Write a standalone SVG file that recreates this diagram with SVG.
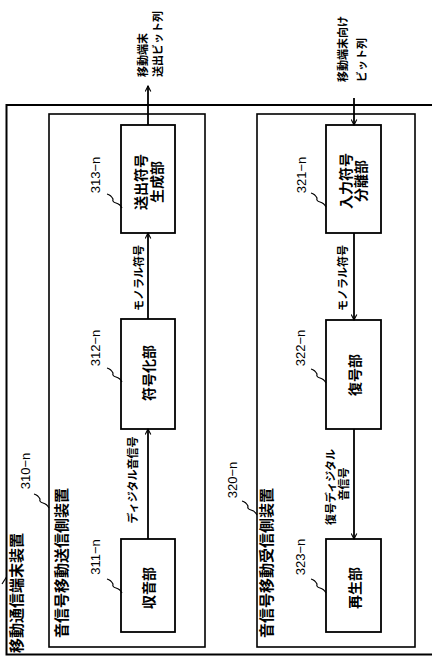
<svg xmlns="http://www.w3.org/2000/svg" width="432" height="657" viewBox="0 0 432 657">
<style>
.box{fill:none;stroke:#000;stroke-width:1.6}
.outer{fill:none;stroke:#000;stroke-width:2}
.blk{fill:#fff;stroke:#000;stroke-width:1.8}
.ln{fill:none;stroke:#000;stroke-width:1.8}
.ld{fill:none;stroke:#000;stroke-width:1.2}
.jp{font-family:"Noto Sans CJK JP","Noto Sans",sans-serif;font-weight:bold;fill:#000}
.t15{font-size:15px}
.t14{font-size:14px}
.t11{font-size:11px}
.num{font-family:"Liberation Sans",Arial,sans-serif;font-size:13px;fill:#000}
text{text-anchor:middle;dominant-baseline:central}
.st{text-anchor:start}
</style>
<defs>
<marker id="ah" viewBox="0 0 10 10" refX="9" refY="5" markerWidth="7" markerHeight="7" orient="auto" markerUnits="userSpaceOnUse">
<path d="M1,1 L9,5 L1,9" fill="none" stroke="#000" stroke-width="1.6"/>
</marker>
<path id="sq" d="M0,0 q4,1 6,5 q-1,3 3,4 q4,1 6,5" fill="none" stroke="#000" stroke-width="1.2"/>
</defs>

<g id="frame-300">
<path class="outer" d="M440,105 H6.5 V654.5 H440"/>
<line class="ld" x1="2" y1="584" x2="6.5" y2="577"/>
<text class="jp t15" transform="translate(15,593) rotate(-90)">移動通信端末装置</text>
</g>

<g id="dev-310">
<rect class="box" x="49" y="114" width="156" height="533"/>
<text class="jp t15" transform="translate(60,563) rotate(-90)">音信号移動送信側装置</text>
<text class="num" transform="translate(25,471) rotate(-90)">310−n</text>
<use href="#sq" x="34" y="494"/>
</g>

<g id="dev-320">
<rect class="box" x="257" y="114" width="158" height="533"/>
<text class="jp t15" transform="translate(265,563) rotate(-90)">音信号移動受信側装置</text>
<text class="num" transform="translate(232,480) rotate(-90)">320−n</text>
<use href="#sq" x="242" y="501"/>
</g>

<g id="node-313">
<rect class="blk" x="121" y="125" width="54" height="108"/>
<text class="jp t14" transform="translate(140,182) rotate(-90)">送出符号</text>
<text class="jp t14" transform="translate(156,182) rotate(-90)">生成部</text>
<text class="num" transform="translate(95,175) rotate(-90)">313−n</text>
<use href="#sq" x="107" y="194"/>
</g>

<g id="node-312">
<rect class="blk" x="121" y="319" width="54" height="110"/>
<text class="jp t14" transform="translate(148,373) rotate(-90)">符号化部</text>
<text class="num" transform="translate(95,348) rotate(-90)">312−n</text>
<use href="#sq" x="107" y="368"/>
</g>

<g id="node-311">
<rect class="blk" x="121" y="539" width="54" height="93"/>
<text class="jp t14" transform="translate(148,588) rotate(-90)">収音部</text>
<text class="num" transform="translate(95,557) rotate(-90)">311−n</text>
<use href="#sq" x="107" y="579"/>
</g>

<g id="node-321">
<rect class="blk" x="326" y="125" width="55" height="108"/>
<text class="jp t14" transform="translate(345,181) rotate(-90)">入力符号</text>
<text class="jp t14" transform="translate(360,181) rotate(-90)">分離部</text>
<text class="num" transform="translate(301,175) rotate(-90)">321−n</text>
<use href="#sq" x="311" y="193"/>
</g>

<g id="node-322">
<rect class="blk" x="326" y="320" width="55" height="109"/>
<text class="jp t14" transform="translate(354,375) rotate(-90)">復号部</text>
<text class="num" transform="translate(300,348) rotate(-90)">322−n</text>
<use href="#sq" x="311" y="369"/>
</g>

<g id="node-323">
<rect class="blk" x="326" y="539" width="55" height="93"/>
<text class="jp t14" transform="translate(354,588) rotate(-90)">再生部</text>
<text class="num" transform="translate(300,557) rotate(-90)">323−n</text>
<use href="#sq" x="311" y="579"/>
</g>

<g id="connectors">
<line class="ln" x1="148" y1="125" x2="148" y2="86" marker-end="url(#ah)"/>
<line class="ln" x1="148" y1="319" x2="148" y2="233" marker-end="url(#ah)"/>
<line class="ln" x1="148" y1="539" x2="148" y2="429" marker-end="url(#ah)"/>
<line class="ln" x1="354" y1="98" x2="354" y2="125" marker-end="url(#ah)"/>
<line class="ln" x1="354" y1="233" x2="354" y2="320" marker-end="url(#ah)"/>
<line class="ln" x1="354" y1="429" x2="354" y2="539" marker-end="url(#ah)"/>
</g>

<g id="labels">
<text class="jp t11 st" transform="translate(142,77) rotate(-90)">移動端末</text>
<text class="jp t11 st" transform="translate(157,77) rotate(-90)">送出ビット列</text>
<text class="jp t11 st" transform="translate(342,82) rotate(-90)">移動端末向け</text>
<text class="jp t11 st" transform="translate(361,82) rotate(-90)">ビット列</text>
<text class="jp t11" transform="translate(138,278) rotate(-90)">モノラル符号</text>
<text class="jp t11" transform="translate(342,278) rotate(-90)">モノラル符号</text>
<text class="jp t11" transform="translate(132,480) rotate(-90)">ディジタル音信号</text>
<text class="jp t11" transform="translate(330,487) rotate(-90)">復号ディジタル</text>
<text class="jp t11" transform="translate(343,484) rotate(-90)">音信号</text>
</g>
</svg>
